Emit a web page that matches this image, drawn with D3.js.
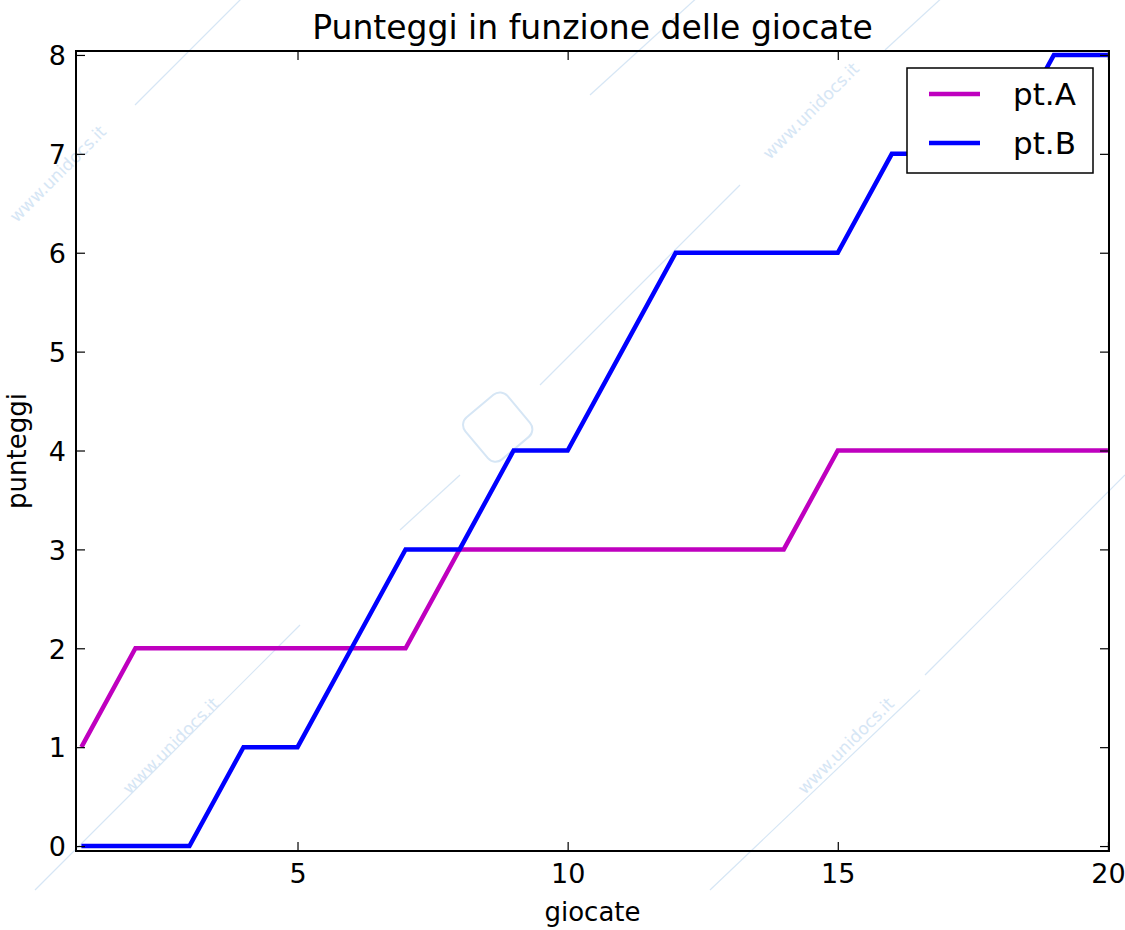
<!DOCTYPE html>
<html>
<head>
<meta charset="utf-8">
<script src="https://cdn.jsdelivr.net/npm/d3@7"></script>
<style>
  body { margin: 0; background: #fff; }
  svg { display: block; font-family: "DejaVu Sans", sans-serif; }
</style>
</head>
<body>
<div id="chart"></div>
<script>
// data
const giocate = d3.range(1, 21);
const ptA = [1, 2, 2, 2, 2, 2, 2, 3, 3, 3, 3, 3, 3, 3, 4, 4, 4, 4, 4, 4];
const ptB = [0, 0, 0, 1, 1, 2, 3, 3, 4, 4, 5, 6, 6, 6, 6, 7, 7, 7, 8, 8];
const xTicks = [5, 10, 15, 20];
const yTicks = [0, 1, 2, 3, 4, 5, 6, 7, 8];
const seriesNames = ["pt.A", "pt.B"];
const seriesColors = ["#bf00bf", "#0000ff"];

const width = 1125, height = 930;
const margin = { top: 51, right: 16, bottom: 79, left: 76 };
const w = width - margin.left - margin.right;
const h = height - margin.top - margin.bottom;

const svg = d3.select("#chart").append("svg")
  .attr("width", width)
  .attr("height", height);

// faint watermark
const wm = svg.append("g").attr("fill", "none").attr("stroke", "#d6e6f5").attr("stroke-width", 1.2);
[[135, 105, 245, -5], [590, 95, 700, -5], [540, 385, 740, 185], [400, 530, 460, 475],
 [35, 890, 300, 625], [710, 890, 920, 690], [925, 675, 1125, 475], [885, 50, 945, -5]]
  .forEach(l => wm.append("line").attr("x1", l[0]).attr("y1", l[1]).attr("x2", l[2]).attr("y2", l[3]));
[[62, 178], [815, 115], [175, 750], [850, 750]].forEach(p => {
  svg.append("text")
    .attr("transform", `translate(${p[0]},${p[1]}) rotate(-45)`)
    .attr("text-anchor", "middle")
    .attr("font-size", 17)
    .attr("fill", "#d6e6f5")
    .text("www.unidocs.it");
});
svg.append("rect")
  .attr("x", 470).attr("y", 400).attr("width", 55).attr("height", 55).attr("rx", 10)
  .attr("transform", "rotate(-40 497 427)")
  .attr("fill", "none").attr("stroke", "#d6e6f5").attr("stroke-width", 2);

const g = svg.append("g").attr("transform", `translate(${margin.left},${margin.top})`);

const x = d3.scaleLinear().domain([0.9, 20.02]).range([0, w]);
const y = d3.scaleLinear().domain([-0.05, 8.04]).range([h, 0]);

svg.append("defs").append("clipPath").attr("id", "clip")
  .append("rect").attr("width", w).attr("height", h);

// lines
const line = d3.line().x((d, i) => x(giocate[i])).y(d => y(d));
[ptA, ptB].forEach((s, k) => {
  g.append("path")
    .datum(s)
    .attr("clip-path", "url(#clip)")
    .attr("fill", "none")
    .attr("stroke", seriesColors[k])
    .attr("stroke-width", 4.5)
    .attr("stroke-linejoin", "miter")
    .attr("d", line);
});

// axes (ticks inward on all sides)
const tickLen = 9;
const styleAxis = sel => {
  sel.select(".domain").remove();
  sel.selectAll(".tick line").attr("stroke", "#000").attr("stroke-width", 1.2);
  sel.selectAll(".tick text").attr("fill", "#000").attr("font-size", 27)
    .attr("font-family", "DejaVu Sans, sans-serif");
};

g.append("g").attr("transform", `translate(0,${h})`)
  .call(d3.axisBottom(x).tickValues(xTicks).tickFormat(d3.format("d")).tickSizeInner(-tickLen))
  .call(styleAxis)
  .selectAll(".tick text").attr("y", 11).attr("dy", "0.76em");
g.append("g")
  .call(d3.axisTop(x).tickValues(xTicks).tickSizeInner(-tickLen).tickFormat(""))
  .call(styleAxis);
g.append("g")
  .call(d3.axisLeft(y).tickValues(yTicks).tickFormat(d3.format("d")).tickSizeInner(-tickLen))
  .call(styleAxis)
  .selectAll(".tick text").attr("x", -10).attr("dy", "0.36em");
g.append("g").attr("transform", `translate(${w},0)`)
  .call(d3.axisRight(y).tickValues(yTicks).tickSizeInner(-tickLen).tickFormat(""))
  .call(styleAxis);

// frame
g.append("rect")
  .attr("width", w).attr("height", h)
  .attr("fill", "none").attr("stroke", "#000").attr("stroke-width", 2);

// title and labels
svg.append("text")
  .attr("x", margin.left + w / 2).attr("y", 39)
  .attr("text-anchor", "middle").attr("font-size", 33)
  .text("Punteggi in funzione delle giocate");
svg.append("text")
  .attr("x", margin.left + w / 2).attr("y", 921)
  .attr("text-anchor", "middle").attr("font-size", 26)
  .text("giocate");
svg.append("text")
  .attr("transform", `translate(26,${margin.top + h / 2}) rotate(-90)`)
  .attr("text-anchor", "middle").attr("font-size", 26)
  .text("punteggi");

// legend
const legend = svg.append("g").attr("transform", "translate(907,68)");
legend.append("rect")
  .attr("width", 186).attr("height", 105)
  .attr("fill", "#fff").attr("stroke", "#000").attr("stroke-width", 1.5);
seriesNames.forEach((name, i) => {
  const row = legend.append("g").attr("transform", `translate(0,${26 + i * 49})`);
  row.append("line")
    .attr("x1", 22).attr("x2", 73)
    .attr("stroke", seriesColors[i]).attr("stroke-width", 4.5);
  row.append("text")
    .attr("x", 106).attr("dy", "0.36em")
    .attr("font-size", 31)
    .text(name);
});
</script>
</body>
</html>
